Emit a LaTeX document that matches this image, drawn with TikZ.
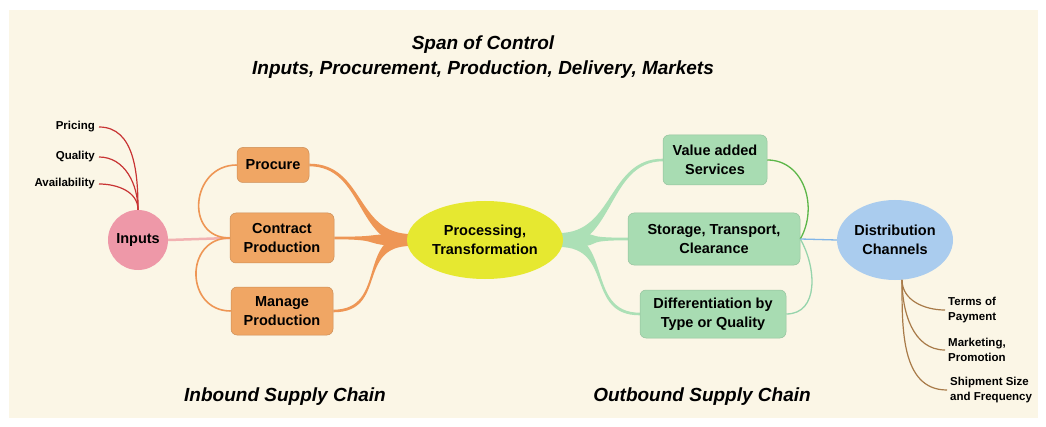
\documentclass[tikz,border=0pt]{standalone}
\usepackage{fontspec}
\setmainfont{Liberation Sans}
\usetikzlibrary{calc,shapes.geometric,backgrounds}

\definecolor{cream}{RGB}{251,246,230}
\definecolor{inpink}{RGB}{238,152,168}
\definecolor{pinkline}{RGB}{242,178,178}
\definecolor{ofill}{RGB}{240,166,100}
\definecolor{oline}{RGB}{238,150,85}
\definecolor{yfill}{RGB}{230,232,48}
\definecolor{gfill}{RGB}{168,220,178}
\definecolor{gline}{RGB}{172,224,182}
\definecolor{gdark}{RGB}{92,182,72}
\definecolor{glight}{RGB}{150,212,172}
\definecolor{bfill}{RGB}{170,204,238}
\definecolor{bline}{RGB}{130,182,232}
\definecolor{redline}{RGB}{200,52,52}
\definecolor{brownline}{RGB}{168,122,72}

% tapered branch: colour, thick end, thin end, half width, handle
\newcommand{\taper}[5]{%
  \fill[#1] ($(#2)+(0,-#4)$) .. controls +(#5,0) and +(-#5,0) .. ($(#3)+(0,-1.3)$)
    -- ($(#3)+(0,1.3)$) .. controls +(-#5,0) and +(#5,0) .. ($(#2)+(0,#4)$) -- cycle;}

\begin{document}
\begin{tikzpicture}[x=1pt,y=1pt]
  \tikzset{
    obox/.style={rectangle, rounded corners=6pt, fill=ofill, draw=ofill!85!black, line width=0.5pt,
                 font=\bfseries\fontsize{14.5}{19}\selectfont, align=center, inner sep=2pt},
    gbox/.style={rectangle, rounded corners=6pt, fill=gfill, draw=gfill!88!black, line width=0.5pt,
                 font=\bfseries\fontsize{14.5}{19}\selectfont, align=center, inner sep=2pt},
    blob/.style={ellipse, inner sep=0pt, font=\bfseries\fontsize{14.5}{19}\selectfont, align=center},
    lbl/.style={font=\bfseries\fontsize{11.5}{15}\selectfont, inner sep=0pt, align=left},
    heading/.style={font=\bfseries\itshape\fontsize{19}{25}\selectfont, align=center, inner sep=0pt}
  }

  \useasboundingbox (0,0) rectangle (1046,426);
  \begin{scope}[on background layer]
    \fill[cream] (9,8) rectangle (1038,416);
  \end{scope}

  % — title —
  \node[heading] (title) at (483,369) {Span of Control\\Inputs, Procurement, Production, Delivery, Markets};

  % — inbound side —
  \node[circle, fill=inpink, minimum size=60pt, inner sep=0pt, font=\bfseries\fontsize{14.5}{19}\selectfont] (inputs) at (138,186) {Inputs};
  \node[lbl, anchor=east] (pricing) at (95,299) {Pricing};
  \node[lbl, anchor=east] (quality) at (95,269) {Quality};
  \node[lbl, anchor=east] (avail) at (95,242) {Availability};

  \node[obox, minimum width=72pt, minimum height=35pt] (procure) at (273,261) {Procure};
  \node[obox, minimum width=104pt, minimum height=50pt] (contract) at (282,188) {Contract\\Production};
  \node[obox, minimum width=102pt, minimum height=48pt] (manage) at (282,115) {Manage\\Production};

  \node[blob, fill=yfill, minimum width=156pt, minimum height=78pt] (proc) at (485,186) {Processing,\\Transformation};

  % — outbound side —
  \node[gbox, minimum width=104pt, minimum height=50pt] (value) at (715,266) {Value added\\Services};
  \node[gbox, minimum width=172pt, minimum height=52pt] (storage) at (714,187) {Storage, Transport,\\Clearance};
  \node[gbox, minimum width=146pt, minimum height=48pt] (diff) at (713,112) {Differentiation by\\Type or Quality};

  \node[blob, fill=bfill, minimum width=116pt, minimum height=80pt] (dist) at (895,186) {Distribution\\Channels};
  \node[lbl, anchor=west] (terms) at (948,116) {Terms of\\Payment};
  \node[lbl, anchor=west] (market) at (948,76) {Marketing,\\Promotion};
  \node[lbl, anchor=west] (ship) at (950,36) {Shipment Size\\and Frequency};

  \node[heading] (inbound) at (285,29) {Inbound Supply Chain};
  \node[heading] (outbound) at (702,29) {Outbound Supply Chain};

  % input factors
  \foreach \n in {pricing,quality,avail}
    \draw[redline, line width=1.2pt] ($(\n.east)+(4,0)$) to[out=0,in=90] (inputs.north);

  % inputs to the orange group
  \draw[pinkline, line width=2.5pt] (inputs.east) -- (contract.west);
  \draw[oline, line width=1.6pt] (contract.west) to[out=180,in=180,looseness=1.6] (procure.west);
  \draw[oline, line width=1.6pt] (contract.west) to[out=180,in=180,looseness=1.6] (manage.west);

  % branches in and out of processing
  \coordinate (pin) at ($(proc.west)+(4,0)$);
  \coordinate (pout) at ($(proc.east)+(-4,0)$);
  \begin{scope}[on background layer]
    \foreach \n in {procure,contract,manage} {\taper{oline}{pin}{\n.east}{6}{-55}}
    \foreach \n in {value,storage,diff} {\taper{gline}{pout}{\n.west}{7}{55}}
  \end{scope}

  % outbound links
  \draw[gdark, line width=1.3pt] (storage.east) to[out=60,in=0,looseness=1.1] (value.east);
  \draw[glight, line width=1.3pt] (storage.east) to[out=-60,in=0,looseness=1.1] (diff.east);
  \draw[bline, line width=1.3pt] (storage.east) -- (dist.west);

  % distribution factors
  \foreach \n in {terms,market,ship}
    \draw[brownline, line width=1.2pt] (dist.-80) to[out=-90,in=180] ($(\n.west)+(-3,0)$);
\end{tikzpicture}
\end{document}
